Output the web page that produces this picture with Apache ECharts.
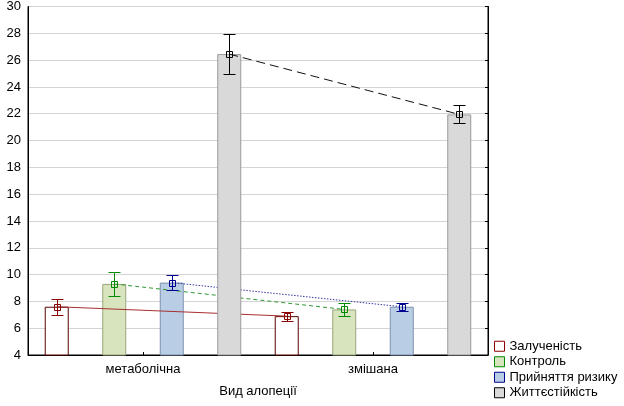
<!DOCTYPE html>
<html>
<head>
<meta charset="utf-8">
<script src="https://cdn.jsdelivr.net/npm/echarts@6/dist/echarts.min.js"></script>
<style>
html,body{margin:0;padding:0;background:#fff;}
#chart{width:624px;height:406px;}
</style>
</head>
<body>
<div id="chart"></div>
<script>
// ---- data ----
const categories = ['метаболічна', 'змішана'];
const seriesNames = ['Залученість', 'Контроль', 'Прийняття ризику', 'Життєстійкість'];
const meanZaluchenist = [7.6, 6.9];
const meanKontrol = [9.3, 7.4];
const meanRyzyk = [9.4, 7.6];
const meanZhyttiestiikist = [26.45, 21.95];
const errZaluchenist = [0.6, 0.33];
const errKontrol = [0.9, 0.5];
const errRyzyk = [0.58, 0.3];
const errZhyttiestiikist = [1.5, 0.67];
const yMin = 4, yMax = 30, yStep = 2;
const axisTitle = 'Вид алопеції';

// ---- styles ----
const means = [meanZaluchenist, meanKontrol, meanRyzyk, meanZhyttiestiikist];
const errs = [errZaluchenist, errKontrol, errRyzyk, errZhyttiestiikist];
const barFill = ['#ffffff', '#d7e4bd', '#b9cde5', '#d9d9d9'];
const barBorder = ['#5a0000', '#98a67c', '#7d91b0', '#9a9a9a'];
const markColor = ['#8b0000', '#008a00', '#000090', '#000000'];
const lineColor = ['#a83030', '#2f9a2f', '#3838a8', '#111111'];
const lineDash = ['solid', [4, 3], [1.5, 1.5], [9, 5]];
const lineZ = [3, 3, 3, 5];
const barZ = [2, 2, 2, 4];
const FONT = '"Liberation Sans", Arial, sans-serif';

function px(v) { return Math.round(v) + 0.5; }

function errRenderer(s) {
  return function (params, api) {
    const i = params.dataIndex;
    const m = means[s][i], e = errs[s][i];
    const band = api.size([1, 0])[0];
    const off = (s - 1.5) * band / 4;
    const cx = px(api.coord([i, m])[0] + off);
    const yT = px(api.coord([i, m + e])[1]);
    const yB = px(api.coord([i, m - e])[1]);
    const yM = px(api.coord([i, m])[1]);
    const st = { stroke: markColor[s], lineWidth: 1, fill: null };
    return {
      type: 'group',
      children: [
        { type: 'line', shape: { x1: cx, y1: yT, x2: cx, y2: yB }, style: st },
        { type: 'line', shape: { x1: cx - 6, y1: yT, x2: cx + 6, y2: yT }, style: st },
        { type: 'line', shape: { x1: cx - 6, y1: yB, x2: cx + 6, y2: yB }, style: st },
        { type: 'rect', shape: { x: cx - 3, y: yM - 3, width: 6, height: 6 }, style: st }
      ]
    };
  };
}

function lineRenderer(s) {
  return function (params, api) {
    if (params.dataIndex !== 0) return null;
    const band = api.size([1, 0])[0];
    const off = (s - 1.5) * band / 4;
    const pts = means[s].map((m, i) => {
      const c = api.coord([i, m]);
      return [c[0] + off, c[1]];
    });
    return {
      type: 'polyline',
      shape: { points: pts },
      style: { stroke: lineColor[s], lineWidth: 1, fill: null, lineDash: lineDash[s] === 'solid' ? null : lineDash[s] }
    };
  };
}

const series = [];
seriesNames.forEach((name, s) => {
  series.push({
    name: name,
    type: 'bar',
    data: means[s],
    barWidth: 24,
    barGap: '139.6%',
    z: barZ[s],
    itemStyle: { color: barFill[s], borderColor: barBorder[s], borderWidth: 1 },
    emphasis: { disabled: true },
    silent: true
  });
});
seriesNames.forEach((name, s) => {
  series.push({
    name: name + ' (лінія)',
    type: 'custom',
    data: means[s].map((m, i) => [i, m]),
    renderItem: lineRenderer(s),
    z: lineZ[s],
    silent: true
  });
  series.push({
    name: name + ' (похибка)',
    type: 'custom',
    data: means[s].map((m, i) => [i, m]),
    renderItem: errRenderer(s),
    z: 6,
    silent: true
  });
});

const chart = echarts.init(document.getElementById('chart'), null, { renderer: 'canvas' });
chart.setOption({
  animation: false,
  backgroundColor: '#ffffff',
  grid: { left: 28, right: 136, top: 6, bottom: 51, show: true, borderColor: '#000', borderWidth: 1, backgroundColor: '#fff' },
  xAxis: {
    type: 'category',
    data: categories,
    boundaryGap: true,
    axisLine: { lineStyle: { color: '#000', width: 1 } },
    axisTick: { show: true, inside: true, length: 3, alignWithLabel: true, lineStyle: { color: '#000' } },
    axisLabel: { color: '#000', fontSize: 13, fontFamily: FONT, margin: 8 },
    name: axisTitle,
    nameLocation: 'middle',
    nameGap: 30,
    nameTextStyle: { color: '#000', fontSize: 13, fontFamily: FONT },
    splitLine: { show: false }
  },
  yAxis: [{
    type: 'value',
    min: yMin, max: yMax, interval: yStep,
    axisLine: { show: true, lineStyle: { color: '#000', width: 1 } },
    axisTick: { show: false },
    axisLabel: { color: '#000', fontSize: 13, fontFamily: FONT, margin: 7 },
    splitLine: { show: true, lineStyle: { color: '#d4d4d4', width: 1 } }
  }, {
    type: 'value',
    position: 'right',
    min: yMin, max: yMax, interval: yStep,
    axisLine: { show: true, lineStyle: { color: '#000', width: 1 } },
    axisTick: { show: true, inside: true, length: 3, lineStyle: { color: '#000' } },
    axisLabel: { show: false },
    splitLine: { show: false }
  }],
  legend: {
    orient: 'vertical',
    left: 494,
    top: 339,
    padding: 0,
    itemWidth: 10,
    itemHeight: 10,
    itemGap: 1,
    icon: 'rect',
    selectedMode: false,
    data: seriesNames.map((n, s) => ({
      name: n,
      itemStyle: { color: barFill[s], borderColor: markColor[s], borderWidth: 1 }
    })),
    textStyle: { color: '#000', fontSize: 13, fontFamily: FONT, lineHeight: 14.5, padding: 0 }
  },
  series: series
});
</script>
</body>
</html>
